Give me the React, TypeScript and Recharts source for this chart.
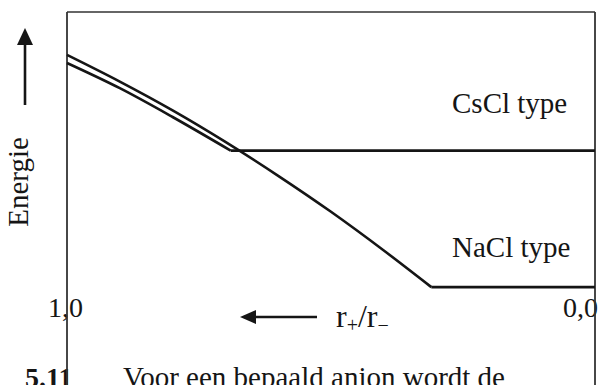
import React from 'react';
import { LineChart, Line, XAxis, YAxis, ReferenceLine } from 'recharts';

// Radius ratio r+/r- (runs from 1,0 on the left to 0,0 on the right)
// NaCl: falling branch, then a flat plateau below the critical ratio
const naclRatio = [1.0, 0.9, 0.8, 0.7, 0.6, 0.5, 0.4, 0.31];
const naclEnergy = [85.7, 76.8, 67.2, 56.7, 45.4, 33.4, 20.5, 8.3];
const naclPlateauRatio = [0.31, 0.0];
const naclPlateauEnergy = [8.3, 8.3];

// CsCl: falling branch, then a flat plateau
const csclRatio = [1.0, 0.9, 0.8, 0.69];
const csclEnergy = [83.0, 74.6, 65.0, 53.8];
const csclPlateauRatio = [0.69, 0.0];
const csclPlateauEnergy = [53.8, 53.8];

const ratioTicks = ['1,0', '0,0'];

const zip = (rs: number[], es: number[]) => rs.map((r, i) => ({ r, e: es[i] }));
const naclData = zip(naclRatio, naclEnergy);
const naclPlateau = zip(naclPlateauRatio, naclPlateauEnergy);
const csclData = zip(csclRatio, csclEnergy);
const csclPlateau = zip(csclPlateauRatio, csclPlateauEnergy);

const FONT = '"Liberation Serif", "Times New Roman", serif';
const INK = '#151515';

const lineProps = {
  dataKey: 'e',
  stroke: INK,
  strokeWidth: 2.6,
  dot: false,
  activeDot: false,
  isAnimationActive: false,
} as const;

export default function App() {
  return (
    <div style={{ position: 'absolute', left: 0, top: 0, background: '#fff' }}>
      <LineChart
        width={600}
        height={387}
        margin={{ top: 12, right: 5, bottom: 0, left: 67 }}
      >
        <XAxis type="number" dataKey="r" domain={[0, 1]} reversed hide allowDuplicatedCategory={false} />
        <YAxis type="number" domain={[-25, 100]} hide />

        {/* frame: top edge and the two vertical sides */}
        <ReferenceLine y={100} stroke="#333" strokeWidth={1.7} />
        <ReferenceLine x={1} stroke="#333" strokeWidth={1.8} />
        <ReferenceLine x={0} stroke="#333" strokeWidth={1.8} />

        <Line {...lineProps} data={naclData} type="monotoneX" name="NaCl type" />
        <Line {...lineProps} data={naclPlateau} type="linear" name="NaCl type plateau" />
        <Line {...lineProps} data={csclData} type="monotoneX" name="CsCl type" />
        <Line {...lineProps} data={csclPlateau} type="linear" name="CsCl type plateau" />

        {/* curve labels */}
        <text x={452} y={113} fontFamily={FONT} fontSize={29} fill={INK}>CsCl type</text>
        <text x={452} y={257} fontFamily={FONT} fontSize={29} fill={INK}>NaCl type</text>

        {/* y axis title with upward arrow */}
        <text
          x={28}
          y={182}
          transform="rotate(-90 28 182)"
          textAnchor="middle"
          fontFamily={FONT}
          fontSize={29}
          fill={INK}
        >
          Energie
        </text>
        <line x1={25} y1={44} x2={25} y2={105} stroke={INK} strokeWidth={2.6} />
        <polygon points="25,28 17,45 33,45" fill={INK} />

        {/* x axis end labels */}
        <text x={48} y={317} fontFamily={FONT} fontSize={28} fill={INK}>{ratioTicks[0]}</text>
        <text x={563} y={317} fontFamily={FONT} fontSize={28} fill={INK}>{ratioTicks[1]}</text>

        {/* x axis title with leftward arrow */}
        <line x1={254} y1={317} x2={317} y2={317} stroke={INK} strokeWidth={2.6} />
        <polygon points="240,317 256,310 256,324" fill={INK} />
        <text x={336} y={327} fontFamily={FONT} fontSize={32} fill={INK}>
          r
          <tspan fontSize={20} dy={5}>+</tspan>
          <tspan dy={-5}>/r</tspan>
          <tspan fontSize={20} dy={5}>−</tspan>
        </text>

        {/* caption */}
        <text x={25} y={387} fontFamily={FONT} fontSize={28} fontWeight="bold" fill={INK}>5.11</text>
        <text x={123} y={387} fontFamily={FONT} fontSize={29} fill={INK}>Voor een bepaald anion wordt de</text>
      </LineChart>
    </div>
  );
}
